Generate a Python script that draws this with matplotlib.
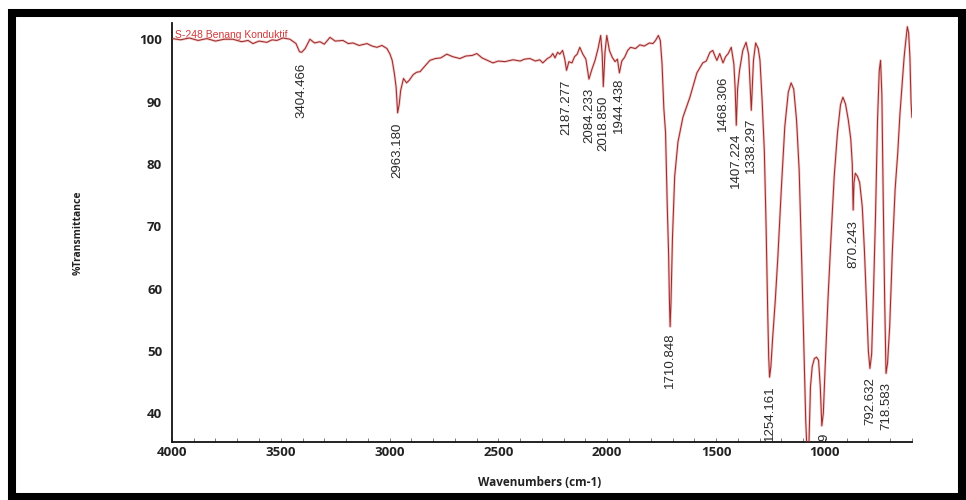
""" FTIR spectrum of S-248 conductive thread, %T against wavenumber
"""

import matplotlib
matplotlib.use('Agg')
import matplotlib.pyplot as plt
from matplotlib.patches import Rectangle
from matplotlib.ticker import MultipleLocator

# spectrum (cm-1, %T), high to low wavenumber
wavenumbers = [
    3998, 3960, 3920, 3880, 3840, 3800, 3760, 3720, 3680, 3650,
    3628, 3600, 3564, 3540, 3518, 3490, 3458, 3430, 3414, 3404,
    3388, 3366, 3345, 3320, 3300, 3274, 3250, 3214, 3190, 3168,
    3140, 3104, 3080, 3058, 3035, 3012, 2998, 2988, 2978, 2970,
    2963, 2956, 2949, 2936, 2922, 2910, 2892, 2876, 2860, 2840,
    2815, 2790, 2765, 2737, 2710, 2677, 2650, 2620, 2599, 2575,
    2550, 2525, 2500, 2470, 2433, 2400, 2380, 2355, 2330, 2310,
    2296, 2275, 2260, 2250, 2240, 2228, 2218, 2205, 2195, 2187,
    2176, 2162, 2150, 2138, 2126, 2112, 2098, 2084, 2070, 2056,
    2042, 2030, 2023, 2018, 2010, 2002, 1990, 1977, 1964, 1953,
    1944, 1933, 1920, 1906, 1893, 1870, 1850, 1830, 1806, 1790,
    1778, 1765, 1756, 1748, 1740, 1732, 1724, 1718, 1714, 1711,
    1707, 1700, 1690, 1675, 1652, 1620, 1588, 1561, 1545, 1528,
    1515, 1505, 1496, 1483, 1476, 1468, 1456, 1444, 1430, 1418,
    1412, 1407, 1401, 1392, 1377, 1362, 1350, 1338, 1328, 1318,
    1306, 1298, 1288, 1278, 1270, 1263, 1258, 1254, 1248, 1240,
    1228, 1216, 1200, 1184, 1168, 1155, 1143, 1130, 1118, 1106,
    1096, 1088, 1081, 1074, 1066, 1058, 1048, 1038, 1029, 1021,
    1014, 1007, 998, 986, 972, 957, 942, 928, 917, 905,
    892, 881, 874, 870, 866, 860, 850, 840, 828, 818,
    809, 800, 793, 785, 776, 767, 758, 750, 744, 738,
    732, 725, 719, 712, 702, 690, 677, 665, 655, 646,
    636, 628, 621, 615, 609, 604, 600,
]
transmittance = [
    100.1, 99.9, 100.2, 99.8, 100.1, 99.7, 100.0, 100.0, 99.6, 99.8,
    99.3, 99.7, 99.5, 99.9, 99.8, 100.2, 100.0, 99.3, 98.0, 97.9,
    98.5, 100.0, 99.4, 99.6, 99.2, 100.3, 99.7, 99.8, 99.3, 99.4,
    99.0, 99.3, 98.9, 98.7, 99.0, 98.5, 97.6, 96.6, 94.5, 92.3,
    88.2, 89.5, 91.8, 93.7, 93.0, 93.4, 94.3, 94.7, 94.8, 95.6,
    96.6, 96.9, 97.0, 97.6, 97.2, 96.9, 97.3, 97.4, 97.7, 97.0,
    96.6, 96.2, 96.5, 96.4, 96.7, 96.5, 96.8, 96.9, 96.5, 96.7,
    96.2, 96.9, 97.2, 97.7, 97.0, 97.9, 97.6, 98.2, 96.8, 95.0,
    96.4, 96.2, 97.2, 97.6, 98.7, 97.6, 96.8, 93.6, 95.2, 96.6,
    98.5, 100.6, 97.5, 92.4, 98.0, 100.6, 98.2, 97.1, 96.4, 96.8,
    94.6, 96.5, 97.1, 98.2, 98.7, 98.5, 99.1, 98.9, 99.4, 99.3,
    99.8, 100.6, 99.8, 96.0, 89.0, 85.0, 73.1, 65.7, 57.8, 53.9,
    57.8, 68.3, 78.0, 83.5, 87.5, 90.7, 94.6, 96.2, 96.5, 97.9,
    98.2, 97.3, 96.6, 97.7, 97.0, 96.2, 97.2, 97.7, 98.7, 96.0,
    92.0, 86.2, 92.0, 95.0, 98.2, 99.5, 97.5, 88.6, 96.6, 99.4,
    98.5, 96.6, 90.0, 82.0, 70.0, 57.0, 49.0, 45.8, 47.5, 52.0,
    58.0, 65.0, 76.0, 86.0, 91.5, 93.0, 92.0, 87.0, 79.0, 64.0,
    50.0, 39.0, 33.0, 34.0, 44.3, 47.5, 48.8, 49.0, 48.5, 44.3,
    38.0, 40.0, 48.0, 58.0, 68.0, 78.0, 85.0, 89.5, 90.7, 89.6,
    87.0, 84.0, 80.0, 72.6, 77.0, 78.5, 78.0, 77.0, 73.1, 66.0,
    58.0, 50.0, 47.2, 49.5, 60.0, 72.0, 87.0, 95.0, 96.6, 91.0,
    75.0, 58.0, 46.4, 48.0, 54.0, 65.8, 76.0, 81.8, 88.0, 92.3,
    97.0, 99.8, 102.0, 101.0, 97.0, 90.0, 87.5,
]

# peak annotations: text, wavenumber, top of the text in %T
# (the label of the ~1010 band is cut by the axis, only its last digit shows)
peak_labels = ['3404.466', '2963.180', '2187.277', '2084.233', '2018.850',
               '1944.438', '1710.848', '1468.306', '1407.224', '1338.297',
               '1254.161', '9', '870.243', '792.632', '718.583']
peak_positions = [3404.466, 2963.180, 2187.277, 2084.233, 2018.850,
                  1944.438, 1710.848, 1468.306, 1407.224, 1338.297,
                  1254.161, 1000.0, 870.243, 792.632, 718.583]
peak_label_tops = [96.3, 86.7, 93.5, 92.2, 90.9,
                   93.8, 52.9, 94.2, 85.0, 87.5,
                   44.5, 36.8, 71.0, 45.8, 45.0]

sample_name = 'S-248 Benang Konduktif'
x_ticks = [4000, 3500, 3000, 2500, 2000, 1500, 1000]
y_ticks = [40, 50, 60, 70, 80, 90, 100]


def plot_spectrum():
    """ Draws the spectrum with its peak labels and saves out.png.
    """
    fig = plt.figure(figsize=(9.66, 5.0), dpi=100)
    ax = fig.add_axes([0.178, 0.116, 0.766, 0.838])

    # soft pink halo under the trace, like the scanned printout
    ax.plot(wavenumbers, transmittance, color='#f6caca', lw=1.9,
            solid_joinstyle='round', zorder=2)
    ax.plot(wavenumbers, transmittance, color='#9a2e2e', lw=0.75, zorder=3)

    ax.set_xlim(4000, 600)
    ax.set_ylim(35.4, 102.6)

    for text, wn, top in zip(peak_labels, peak_positions, peak_label_tops):
        ax.text(wn, top, text, rotation=90, ha='center', va='top',
                fontsize=9.5, family='Liberation Sans', color='#2a2a2a',
                clip_on=True, zorder=4)

    ax.text(3987, 100.7, sample_name, color='#d03a3a', fontsize=7.5,
            family='Liberation Sans', va='center', ha='left', zorder=1)

    for side in ['top', 'right']:
        ax.spines[side].set_visible(False)
    for side in ['left', 'bottom']:
        ax.spines[side].set_linewidth(1.3)
        ax.spines[side].set_color('#111111')

    ax.set_xticks(x_ticks)
    ax.set_yticks(y_ticks)
    ax.xaxis.set_minor_locator(MultipleLocator(100))
    ax.tick_params(axis='x', which='both', direction='in', length=3,
                   width=0.6, color='#666666', pad=3)
    ax.tick_params(axis='y', length=0, pad=7)
    for label in ax.get_xticklabels() + ax.get_yticklabels():
        label.set_family('Open Sans')
        label.set_fontweight('bold')
        label.set_fontsize(9.5)
        label.set_color('#222222')

    fig.text(540 / 966, 1 - 482 / 500, 'Wavenumbers (cm-1)', ha='center',
             va='center', family='Open Sans', fontweight='bold', fontsize=8.5,
             color='#222222')
    fig.text(78 / 966, 1 - 233 / 500, '%Transmittance', ha='center',
             va='center', rotation=90, family='Open Sans', fontweight='bold',
             fontsize=7.5, color='#222222')

    # thick black frame round the whole picture
    fig.patches.append(Rectangle((12 / 966, 3 / 500), 950 / 966, 484 / 500,
                                 transform=fig.transFigure, fill=False,
                                 edgecolor='black', linewidth=5.8))

    fig.savefig('out.png', dpi=100)


if __name__ == '__main__':
    plot_spectrum()
